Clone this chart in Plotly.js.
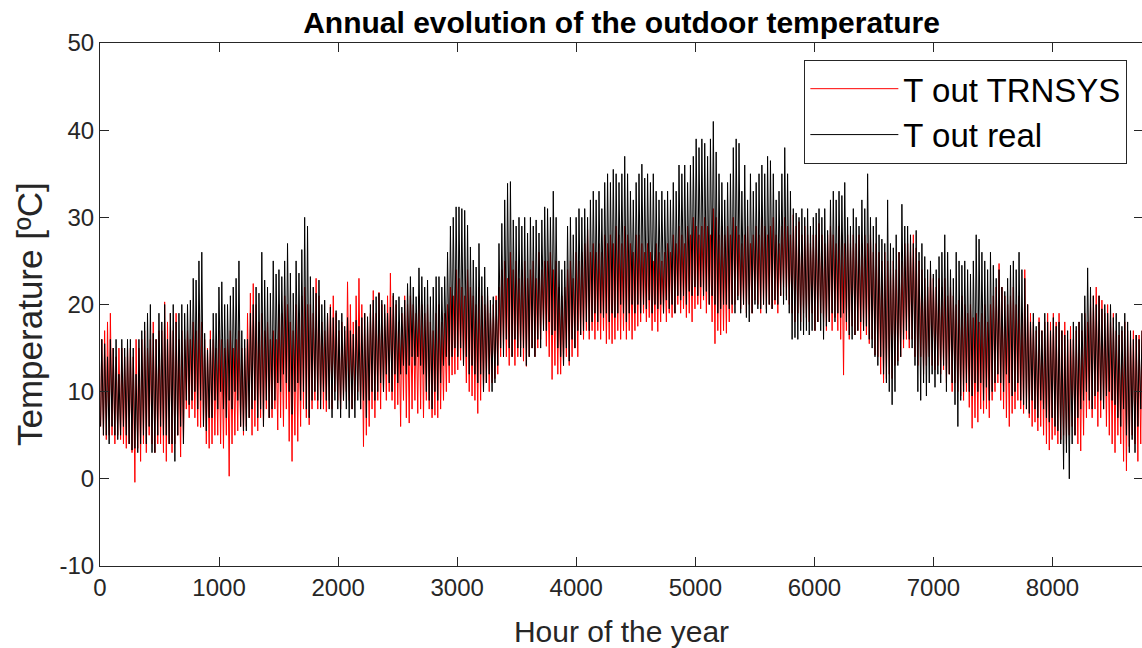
<!DOCTYPE html>
<html>
<head>
<meta charset="utf-8">
<script src="https://cdn.plot.ly/plotly-3.0.1.min.js"></script>
<style>
html,body{margin:0;padding:0;overflow:hidden;background:#fff;}
#chart{width:1143px;height:648px;}
</style>
</head>
<body>
<div id="chart"></div>
<script>
// Daily extremes (°C), one value per day of the year (day 0..364)
const realMax = [
16,15.5,14,16,15,16,12,16,15,16,
16,15,12,16,17,18,19,20,16.7,16,
19,18,20,16,19,20,18,19,20,19,
20,20.5,23,22.8,25,26,16.7,14.8,16,19,
19,22,22.6,20,20,21,22,23,25,17,
16,16,19,20,22,21.3,26,22.8,22,21.3,
25,23.5,24,23.2,25,27,23.6,21.3,25,23.6,
26.3,30,29,23.2,22,21.3,22.8,20,20.5,19,
19.7,18.5,19.3,18.2,19,17.5,18.5,17,16.6,18.2,
17.5,18.5,19,18.6,20,20.5,20.9,21.3,20.5,20,
19,19.7,21.3,20.5,20.9,19.7,20.5,22.4,23.2,22,
20.9,24.2,23.2,22,22.8,20.9,22,23.2,23.2,22,
23.2,26,29,30,31.2,31.2,31,30.8,29.1,26.6,
25.1,24.3,27,23.2,24.3,22,20.5,20.9,20.5,27,
29.3,32,33.9,34.1,29.7,29,30,29,30,28.2,
30,29,29.7,28.2,29.7,31.2,31,30,33,30,
25,24,25,29,30,28,30,31,30,31,
30,32,33,32,33,31,34,35,34,35.5,
35,34,35,37,35,33,32,34,35,36.1,
34.5,35,34,35,33,32,33,32,33,32,
34,33,36,35,36,34,36,37,39,38,
39,38.5,37,39,41,37.5,35,34,32,34,
35,38,39,38.5,33,36,32,35,33,34,
35,36,35,37,36.5,35,32,33,35,38,
35,33,31,30.5,30,31,30,31,29,30,
30.5,31,30,31,28.5,32,33,32,33,32.5,
34,30,29,31,30,29,32,31,35,30,
29,30,28,27.5,27,32,27,26.5,28,26,
31.5,29,29,28,27,28.5,26,27,25.5,24,
25,23.5,24,25.5,26,28,26,24,23,26,
25,24.5,25,24,23.5,25,28,27.5,26,25,
24,26,24.5,23,24,22,21.5,23,24.5,25,
24,26,24,23,20,18,19,17.5,18,17,
19,18,17,18.5,17.5,18,17,16.5,17,16,
18,17.5,18,19,21,24.2,22,21,20,21,
19.5,20,19,20,18.5,19,18,17.5,19,18,
17,16,16.5,16,17
];
const realMin = [
6,5,5,4,6,5,4.5,5,6,5,
4,3.3,3.5,3,4,5,4,6,3,3,
5,6,5,5,4,4,2,5,6,4,
9,8.5,9,10,8,9,6,5.5,7,7,
9,8,10,8,7,9,8,10,9,6,
5.5,5.5,7,8,9,7,8,6,9,7,
8,9,11,10,12,11,10,7.4,10,11,
9,10,8,7,9,10,9,8,10,9,
8,7,9,8,7,9,8,7,8,7,
9,8,9,7,9,10,9,10,11,10,
12,11,10,12,11,12,13,12,13,14,
13,14,13,12,10,9,8,10,9,11,
13,14,13,14,15,14,15,13,14,12,
13,12,11,12,10,11,12,10,11,13,
15,14,16,15,14,16,15,14,15,13,
14,15,14,16,15,17,17,18,16.5,17,
15,14,13,15,13.5,16,15,17,16.5,17,
18,17,18,19,18,19,18.5,19,18,19,
18.5,19,20,19,18,19,20,19,20,19,
20,19.5,20.5,19,20,19.5,20,19,20.5,19.5,
20,19,21,20.5,21,20,21.5,21,22,21,
22,21,21.5,20,21,20,19,19.5,20,20,
19.5,20,19,20.5,19,20,18.5,18,19,20,
19.5,19.5,20,19,20,19.5,20.5,20,21,20,
20.5,19,16,16.2,16,17,16.5,17,16.5,17,
17,18,17,16,17.5,18,19,18,19,18.5,
19,18,16.5,16,16.5,17,18,17,17.5,16,
15,14,13,14,12,11,10,8.5,10,13,
14,16,17,16,15,13,10,9,11,9.5,
11,12,10.5,12,11,13,10,12,11,8.5,
6,9,10,11,10,9.5,11,10,11,9,
10.5,9,10,11,12,11,10,12,11,9.5,
10,11,9,8.5,8,7.5,9,8,7,9,
8,7,6.5,7,6,5.5,4,1.1,3,0,
4,5,7,8,9,10,9,8,9.5,10,
9,8,9.5,10,9,8.5,7,6,8,5,
3,4.5,3,6,8
];
const trnMax = [
16,17,18,19,15,14,15,15,14,15,
15,14,16,15,16,17,15,16,18,16,
17,17,20.3,18,19,17,19,16,17,16,
17,16,18,17,19,18,16,15,17,16,
15,17,16,15,16,17,15,16,17,15,
15,19,21.3,22.4,20,18,19,17,18,16,
17,16,20,19,21,20,18,17,20,19,
21,22,20,20,19,23,21,18,17,19,
20,21,19,17,18,17,22.6,20,18,21,
23,20,19,18,19,21.6,19,21.4,20,19,
21,23.6,21,20,18,19,21,20,21,20,
19,21,20,19,20,18,17,19,20,18,
19,20,22,21,24,23,22,21,24,22,
21,20,22,21,20,21,19,20,21,22,
24,25,23,26,24,25,23,24,25,23,
24,25,23,26,24,25,25,26,24,25,
22,21,22,24,25,23,26,25,26,27,
28.6,26,27,26,27,26,28,27,28,27,
29,28,27,29,28,27,26,28,28,27,
26,27,26,25,27,26,25,26,27,26,
28,27,29,28,27,29,28,30,29,28,
29,30,29,28,31,30,28,29,28,29,
28,30,29,28,27,28,29,27,28,29,
28,30,29,28,29,30,28,27,29,30,
29,28,30.3,29,29.5,28,29,28,27,28,
28,29.3,28,27,28,29,28,27,29,28,
27,28,27,28,27,28,27,28,27,28,
26,27,26,25,26,25,24,25,24,26,
25,27,27,26,28,26.5,25,24,23,22,
24,23,22,23,22,23,21,22,21,20,
20.5,21,20,19,20,18.5,19,18,19,20,
18,20,21,22,24.7,22,21,20,21,22,
20,21,19,24,20,19,18,17,18.5,17,
18,19,18,19,18,19,17,18,16,17.5,
16,17,18,17,19,18,20,21,22,21,
20.5,19,20,18,19,17,16.5,17,18,17,
16,17,16.5,16.5,17
];
const trnMin = [
6,5,4.5,5,5,4,5,4.5,4,3.5,
4,3,-0.4,3.5,2,4,3,5,4,3,
4,4,3,2,4,3,4,5,2.5,4,
8,7,8,7,6,5.9,6,4,3.5,4,
5,5,4,3.5,5,0.3,4,5,5.5,6,
5,6,7,5,6,5.5,7,6,8,7,
7,8,5.6,7,6,8,4.3,2,5,4.3,
6,8,7,6.2,8,9,8,9,8,7.7,
9,8,10,9,8,9,10,9,8,9,
10,8,3.7,5,6,8,7,9,8,10,
9,10,9,8,8.5,6,9,7,6.4,8,
9,7.5,8,7,9,8,7,7.3,7,8,
9,10,11,11.9,12,12.5,13.6,13,11,10,
9.5,9,7.5,9,10,11,10,11,11.5,12,
14,15.2,14,13,14,13,14,15,13.5,12.9,
14,15,14,15,16,17.5,15.2,14,11.4,13,
12,12,13,14,13,14,15,14,16.5,16,
17,16,17,16,17,16,17,15.5,16,15.5,
16,17,16,17,16,17,16,17,17.5,18,
19,18,18.5,17,18,16.9,18,19,18,19,
18.5,19,20,19,19.5,18.5,19,18,19.5,20,
19.5,20.5,19,20,18,15.5,17,16.5,17,16.7,
18,19,20,21,19.5,20,19,20,19,20.5,
20,19,20,19.5,20,19.5,20,19,21,22,
21,20,19,18,19,18,19,18.5,18,19,
17,18,19,18,17,18,17,18.5,17,16,
11.9,17,16,17.5,16.5,17,16,17,16.5,15.5,
16,14.2,14,12,11,11.5,12,11.5,13,13.5,
14,15,16,15,16,14,13,14,12,13,
14,13,12.5,13,12,12.5,11,12,10,11,
10,9.5,9,10,8.2,5.8,7,6.5,8,7.5,
8,7,9,10,11,9,8,7,6,7.5,
8,9,8,7.5,8,7,6,6.5,5.5,6,
5,4,3.3,4.5,5,4,4.5,5,4,5,
6,5,4,3.2,5,7,8,7,8,6,
7,8,6,5,4,3,5,4,2,0.9,
3.7,5,4,2,4
];
const xTickVals = [0,1000,2000,3000,4000,5000,6000,7000,8000];
const yTickVals = [-10,0,10,20,30,40,50];
const seriesNames = ['T out TRNSYS','T out real'];

// hour of daily minimum and maximum within each day
const minHour = 5, maxHour = 15;
function buildSeries(mins, maxs){
  const x = [], y = [];
  for (let d = 0; d < mins.length; d++){
    x.push(d*24 + minHour); y.push(mins[d]);
    x.push(d*24 + maxHour); y.push(maxs[d]);
  }
  return {x, y};
}
const trn = buildSeries(trnMin, trnMax);
const real = buildSeries(realMin, realMax);

const traces = [
  {x: trn.x, y: trn.y, type:'scatter', mode:'lines', name: seriesNames[0],
   line:{color:'#ff0000', width:1}},
  {x: real.x, y: real.y, type:'scatter', mode:'lines', name: seriesNames[1],
   line:{color:'#000000', width:1}}
];

const FONT = 'Liberation Sans, Arial, sans-serif';
const axisCommon = {
  ticks:'inside', ticklen:9, tickwidth:1, tickcolor:'#262626',
  showline:true, linecolor:'#262626', linewidth:1, mirror:'ticks',
  showgrid:false, zeroline:false,
  tickfont:{size:24, color:'#262626', family:FONT}
};

const W = 1143, H = 648, ML = 100, MR = 0, MT = 43, MB = 82;
const plotW = W - ML - MR, plotH = H - MT - MB;

const layout = {
  width:W, height:H,
  margin:{l:ML, r:MR, t:MT, b:MB, pad:0},
  paper_bgcolor:'#ffffff', plot_bgcolor:'#ffffff',
  font:{family:FONT, color:'#262626'},
  showlegend:true,
  title:{
    text:'<b>Annual evolution of the outdoor temperature</b>',
    font:{size:30, color:'#000000', family:FONT},
    x:0.5, xref:'paper', xanchor:'center',
    y:1-22/648, yref:'container', yanchor:'middle'
  },
  xaxis: Object.assign({}, axisCommon, {
    range:[0,8760], tickvals:xTickVals, ticktext:xTickVals.map(String),
    title:{text:'Hour of the year', font:{size:30, color:'#262626'}, standoff:21}
  }),
  yaxis: Object.assign({}, axisCommon, {
    range:[-10,50], tickvals:yTickVals, ticktext:yTickVals.map(String)
  }),
  annotations:[{
    text:'Temperature [ºC]', textangle:-90, showarrow:false,
    xref:'paper', x:(29-ML)/plotW, xanchor:'center',
    yref:'paper', y:(H-MB-314)/plotH, yanchor:'middle',
    font:{size:35, color:'#262626', family:FONT}
  }],
  legend:{
    x:0.985, xanchor:'right', y:0.968, yanchor:'top',
    bgcolor:'#ffffff', bordercolor:'#262626', borderwidth:1,
    font:{size:33, color:'#000000', family:FONT},
    itemwidth:88, tracegroupgap:0
  }
};

Plotly.newPlot('chart', traces, layout, {staticPlot:true, displayModeBar:false});
</script>
</body>
</html>
